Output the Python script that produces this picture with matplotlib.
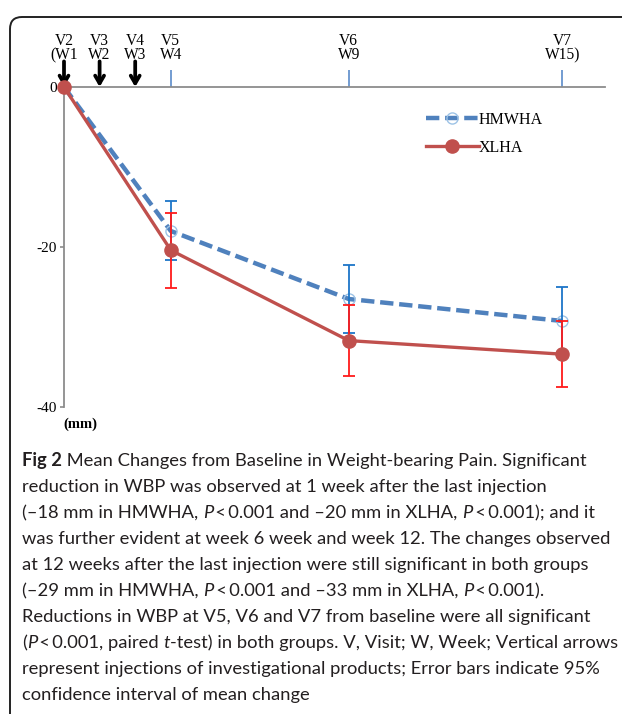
"""Fig 2: mean change from baseline in weight-bearing pain (HMWHA vs XLHA)."""
import matplotlib
matplotlib.use("Agg")
import matplotlib.pyplot as plt
from matplotlib.patches import FancyBboxPatch
from matplotlib.transforms import IdentityTransform

# data
weeks = [1, 4, 9, 15]
hmwha_mean = [0, -18.0, -26.5, -29.25]
hmwha_lo = [0, -21.6, -30.7, -33.5]
hmwha_hi = [0, -14.2, -22.2, -25.0]
xlha_mean = [0, -20.4, -31.7, -33.4]
xlha_lo = [0, -25.1, -36.1, -37.5]
xlha_hi = [0, -15.8, -27.3, -29.3]
visit_weeks = [1, 2, 3, 4, 9, 15]
visit_labels = ["V2\n(W1", "V3\nW2", "V4\nW3", "V5\nW4", "V6\nW9", "V7\nW15)"]
injection_weeks = [1, 2, 3]
yticks = [0, -20, -40]

caption = [
    [("Fig 2", "b"), (" Mean Changes from Baseline in Weight-bearing Pain. Significant", "")],
    [("reduction in WBP was observed at 1 week after the last injection", "")],
    [("(\u201318 mm in HMWHA, ", ""), ("P", "i"), ("\u2009<\u20090.001 and \u201320 mm in XLHA, ", ""),
     ("P", "i"), ("\u2009<\u20090.001); and it", "")],
    [("was further evident at week 6 week and week 12. The changes observed", "")],
    [("at 12 weeks after the last injection were still significant in both groups", "")],
    [("(\u201329 mm in HMWHA, ", ""), ("P", "i"), ("\u2009<\u20090.001 and \u201333 mm in XLHA, ", ""),
     ("P", "i"), ("\u2009<\u20090.001).", "")],
    [("Reductions in WBP at V5, V6 and V7 from baseline were all significant", "")],
    [("(", ""), ("P", "i"), ("\u2009<\u20090.001, paired ", ""), ("t", "i"),
     ("-test) in both groups. V, Visit; W, Week; Vertical arrows", "")],
    [("represent injections of investigational products; Error bars indicate 95%", "")],
    [("confidence interval of mean change", "")],
]

W, H = 622, 714
serif = ["Liberation Serif", "DejaVu Serif"]
sans = ["Lato", "Open Sans", "DejaVu Sans"]
blue, red = "#4F81BD", "#C0504D"

fig = plt.figure(figsize=(W / 100, H / 100), dpi=100)
ax = fig.add_axes([64 / W, 1 - 407 / H, 541 / W, 320 / H])

ax.plot(weeks, hmwha_mean, color=blue, lw=3.2, ls=(0, (3, 1.3)),
        marker="o", ms=8, mfc="none", mec="#9DC3E6", mew=1.0,
        label="HMWHA", clip_on=False, zorder=3)
ax.errorbar(weeks[1:], hmwha_mean[1:],
            yerr=[[m - l for m, l in zip(hmwha_mean[1:], hmwha_lo[1:])],
                  [h - m for m, h in zip(hmwha_mean[1:], hmwha_hi[1:])]],
            fmt="none", ecolor="#1C75C8", elinewidth=1.3, capsize=4, capthick=1.3, zorder=3)
ax.plot(weeks, xlha_mean, color=red, lw=2.4, marker="o", ms=9.5,
        label="XLHA", clip_on=False, zorder=5)
ax.errorbar(weeks[1:], xlha_mean[1:],
            yerr=[[m - l for m, l in zip(xlha_mean[1:], xlha_lo[1:])],
                  [h - m for m, h in zip(xlha_mean[1:], xlha_hi[1:])]],
            fmt="none", ecolor="#FF1A1A", elinewidth=1.3, capsize=4, capthick=1.3, zorder=4)

# injection arrows
for w in injection_weeks:
    ax.annotate("", xy=(w, 0), xytext=(w, 3.2), annotation_clip=False,
                arrowprops=dict(arrowstyle="->,head_length=0.55,head_width=0.32",
                                lw=2.7, color="black", shrinkA=0, shrinkB=0),
                zorder=2)

ax.set_xlim(1, 1 + 541 / 35.6)
ax.set_ylim(-40, 0)
for s in ["right", "bottom"]:
    ax.spines[s].set_visible(False)
for s in ["top", "left"]:
    ax.spines[s].set_color("#8C8C8C")
    ax.spines[s].set_linewidth(1.3)

ax.xaxis.tick_top()
ax.set_xticks(visit_weeks)
ax.set_xticklabels(visit_labels, fontfamily=serif, fontsize=11.2, linespacing=0.88)
ax.tick_params(axis="x", direction="out", length=12, width=1.2, color="#5B8BC9", pad=5)
for t in ax.xaxis.get_major_ticks()[:3]:
    t.tick2line.set_visible(False)

ax.set_yticks(yticks)
ax.set_yticklabels([str(v) for v in yticks], fontfamily=serif, fontsize=11)
ax.tick_params(axis="y", direction="out", length=3, width=1.2, color="#8C8C8C", pad=2)

fig.text(80 / W, 1 - 424 / H, "(mm)", fontfamily=serif, fontsize=10.5,
         fontweight="bold", ha="center", va="center")

ax.legend(loc="upper left", bbox_to_anchor=(426 / W, 1 - 112 / H),
          bbox_transform=fig.transFigure, frameon=False, borderpad=0,
          borderaxespad=0, handlelength=3.3, handletextpad=0.0,
          labelspacing=0.72, prop={"family": serif, "size": 11.5})

# frame
fig.patches.append(FancyBboxPatch((10, -60), 760, H - 17 + 60,
                                  boxstyle="round,pad=0,rounding_size=12",
                                  transform=IdentityTransform(), fill=False,
                                  lw=1.4, ec="#222222"))

# caption, drawn run by run
r = fig.canvas.get_renderer()
probe = fig.text(0, 0, "".join(s for s, _ in caption[3]), family=sans, fontsize=10)
fs = 10 * (611 - 22) / probe.get_window_extent(r).width
probe.remove()
for i, runs in enumerate(caption):
    x = 22
    y = H - (466 + 26 * i)
    for s, st in runs:
        t = fig.text(x, y, s, transform=IdentityTransform(), family=sans,
                     fontsize=fs, color="#231F20", va="baseline", ha="left",
                     fontweight="bold" if st == "b" else "normal",
                     fontstyle="italic" if st == "i" else "normal")
        x += t.get_window_extent(r).width

fig.savefig("out.png", dpi=100)
